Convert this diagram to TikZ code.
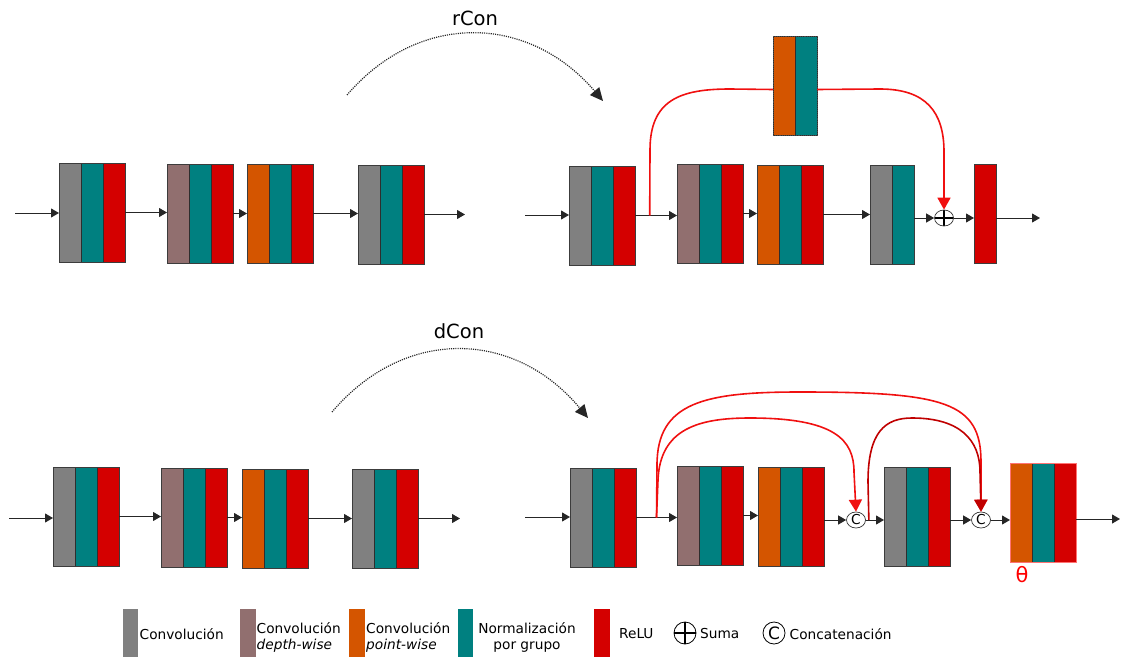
\documentclass[tikz,border=0pt]{standalone}
\usepackage{fontspec}
\setmainfont{DejaVu Sans}
\usetikzlibrary{arrows.meta,calc,shapes.geometric}

\definecolor{convgray}{HTML}{808080}
\definecolor{dwmauve}{HTML}{916F6F}
\definecolor{pworange}{HTML}{D45500}
\definecolor{gnteal}{HTML}{008080}
\definecolor{relured}{HTML}{D40000}
\definecolor{framegray}{HTML}{3C3C3C}
\definecolor{sepgray}{HTML}{2E2E2E}
\definecolor{skipred}{HTML}{F01010}
\definecolor{skipdark}{HTML}{C00000}

\tikzset{
  layerbox/.style={rectangle, anchor=north west, inner sep=0pt, outer sep=0pt, minimum height=99},
  conn/.style={-{Triangle[length=8pt,width=9pt]}, line width=1pt, draw=black!85},
  skip/.style={line width=1.6pt, draw=skipred},
  skiptip/.style={-{Triangle[length=12pt,width=13pt]}},
  hint/.style={line width=1.2pt, draw=black!85, dash pattern=on 1.1pt off 1.1pt,
    -{Triangle[length=13pt,width=12pt]}},
  joinnode/.style={ellipse, draw=black!80, line width=0.7pt, fill=white, inner sep=0pt,
    minimum width=19, minimum height=16},
  swatch/.style={rectangle, inner sep=0pt, minimum width=15.6, minimum height=48},
  legtext/.style={inner sep=0pt, font=\fontsize{13.7}{16}\selectfont},
  title/.style={font=\fontsize{19.5}{20}\selectfont},
}

% a layer block: #1 frame style, #2 name, #3 left x, #4 top y, #5 strip count, #6 strip colours
\newcommand\layer[6][draw=framegray]{%
  \node[layerbox, minimum width={#5*22}] (#2) at (#3,#4) {};
  \foreach \clr [count=\i from 0] in {#6}
    \filldraw[fill=\clr, draw=sepgray, line width=0.6pt]
      ([xshift={\i*22}]#2.north west) rectangle ([xshift={(\i+1)*22}]#2.south west);
  \draw[line width=0.9pt, #1] (#2.north west) rectangle (#2.south east);
}

\begin{document}
\begin{tikzpicture}[x=1pt, y=-1pt]
\useasboundingbox (0,0) rectangle (1121,658);

% ---------------- plain block, top ----------------
\layer{t1}{59}{163}{3}{convgray,gnteal,relured}
\layer{t2}{167}{164}{3}{dwmauve,gnteal,relured}
\layer{t3}{247}{164}{3}{pworange,gnteal,relured}
\layer{t4}{358}{165}{3}{convgray,gnteal,relured}
\coordinate (tin) at (15,213);
\coordinate (tout) at (465,215);
\draw[conn] (tin) -- (tin -| t1.west);
\draw[conn] (t1.east) -- (t1.east -| t2.west);
\draw[conn] (t2.east) -- (t2.east -| t3.west);
\draw[conn] (t3.east) -- (t3.east -| t4.west);
\draw[conn] (t4.east) -- (t4.east -| tout);

% ---------------- residual connection block ----------------
\layer{r1}{569}{166}{3}{convgray,gnteal,relured}
\layer{r2}{677}{164}{3}{dwmauve,gnteal,relured}
\layer{r3}{757}{165}{3}{pworange,gnteal,relured}
\layer{r4}{870}{165}{2}{convgray,gnteal}
\layer{r5}{974}{164}{1}{relured}
\layer[draw=black!70, densely dotted, line width=0.8pt]{rs}{773}{36}{2}{pworange,gnteal}
\node[joinnode, path picture={
    \draw[line width=1.6pt, black] (path picture bounding box.west) -- (path picture bounding box.east)
      (path picture bounding box.north) -- (path picture bounding box.south);}]
  (sum) at (944,218) {};
\coordinate (rin) at (525,215);
\coordinate (rout) at (1040,218);
\coordinate (rsplit) at ($(r1.east)!0.35!(r1.east -| r2.west)$);
\draw[conn] (rin) -- (rin -| r1.west);
\draw[conn] (r1.east) -- (r1.east -| r2.west);
\draw[conn] (r2.east) -- (r2.east -| r3.west);
\draw[conn] (r3.east) -- (r3.east -| r4.west);
\draw[conn] (sum.west -| r4.east) -- (sum.west);
\draw[conn] (sum.east) -- (sum.east -| r5.west);
\draw[conn] (rout -| r5.east) -- (rout);
\draw[skip] (rsplit) -- (650,150) .. controls (650,100) and (680,89) .. (730,89)
  -- ([yshift=-4pt]rs.west);
\draw[skip, skiptip] ([yshift=-4pt]rs.east) -- (880,89)
  .. controls (926,89) and (944,112) .. (944,152) -- (sum.north);

% ---------------- plain block, bottom ----------------
\layer{b1}{53}{467}{3}{convgray,gnteal,relured}
\layer{b2}{161}{468}{3}{dwmauve,gnteal,relured}
\layer{b3}{242}{469}{3}{pworange,gnteal,relured}
\layer{b4}{352}{469}{3}{convgray,gnteal,relured}
\coordinate (bin) at (9,518);
\coordinate (bout) at (460,520);
\draw[conn] (bin) -- (bin -| b1.west);
\draw[conn] (b1.east) -- (b1.east -| b2.west);
\draw[conn] (b2.east) -- (b2.east -| b3.west);
\draw[conn] (b3.east) -- (b3.east -| b4.west);
\draw[conn] (b4.east) -- (b4.east -| bout);

% ---------------- dense connection block ----------------
\layer{d1}{570}{468}{3}{convgray,gnteal,relured}
\layer{d2}{677}{466}{3}{dwmauve,gnteal,relured}
\layer{d3}{758}{467}{3}{pworange,gnteal,relured}
\layer{d4}{884}{467}{3}{convgray,gnteal,relured}
\layer[draw=red!55, line width=1pt]{d5}{1010}{463}{3}{pworange,gnteal,relured}
\node[joinnode, font=\fontsize{13.7}{14}\selectfont] (cat1) at (856,520) {C};
\node[joinnode, font=\fontsize{13.7}{14}\selectfont] (cat2) at (981,520) {C};
\node[text=red, font=\fontsize{21}{21}\selectfont] (theta) at (1022,575) {θ};
\coordinate (din) at (525,517);
\coordinate (dout) at (1120,519);
\coordinate (dsplit) at ($(d1.east)!0.5!(d1.east -| d2.west)$);
\coordinate (csplit) at ([xshift=3pt]cat1.east);
\draw[conn] (din) -- (din -| d1.west);
\draw[conn] (d1.east) -- (d1.east -| d2.west);
\draw[conn] (d2.east) -- (d2.east -| d3.west);
\draw[conn] (cat1.west -| d3.east) -- (cat1.west);
\draw[conn] (cat1.east) -- (cat1.east -| d4.west);
\draw[conn] (cat2.west -| d4.east) -- (cat2.west);
\draw[conn] (cat2.east) -- (cat2.east -| d5.west);
\draw[conn] (dout -| d5.east) -- (dout);
% outer skip to the second concatenation
\draw[skip, skiptip] (dsplit) -- (657,465)
  .. controls (657,402) and (705,392) .. (800,392)
  .. controls (945,392) and (981,402) .. (981,462) -- (cat2.north);
% inner skip to the first concatenation
\draw[skip, skiptip] (dsplit) -- (658,480)
  .. controls (660,428) and (700,418) .. (750,418)
  .. controls (835,418) and (854,440) .. (854,472) -- (cat1.north);
% skip from the first concatenation to the second
\draw[skip, skiptip, draw=skipdark] (csplit) -- (868,482)
  .. controls (868,432) and (885,418) .. (912,418)
  .. controls (960,418) and (980,440) .. (980,472) -- (cat2.north);

% ---------------- transitions ----------------
\coordinate (arcAs) at (347,95);
\coordinate (arcAe) at (603,101);
\draw[hint] (arcAs) .. controls (420,10) and (530,15) .. (arcAe);
\node[title] (rcon) at (475,18) {rCon};
\coordinate (arcBs) at (332,412);
\coordinate (arcBe) at (588,418);
\draw[hint] (arcBs) .. controls (405,326) and (515,330) .. (arcBe);
\node[title] (dcon) at (459,331) {dCon};

% ---------------- legend ----------------
\node[swatch, fill=convgray] (lgconv) at (130.5,633) {};
\node[legtext, anchor=west] (lgconvt) at (139.5,634) {Convolución};
\node[swatch, fill=dwmauve] (lgdw) at (248,633) {};
\node[legtext, anchor=west, align=left] (lgdwt) at (256.5,637) {Convolución\\\textit{depth-wise}};
\node[swatch, fill=pworange] (lgpw) at (357,633) {};
\node[legtext, anchor=west, align=left] (lgpwt) at (366,637) {Convolución\\\textit{point-wise}};
\node[swatch, fill=gnteal] (lggn) at (465.5,633) {};
\node[legtext, align=center] (lggnt) at (527,637) {Normalización\\por grupo};
\node[swatch, fill=relured] (lgrelu) at (601.7,633) {};
\node[legtext, anchor=west] (lgrelut) at (619,634) {ReLU};
\node[circle, draw=black, line width=0.8pt, minimum size=22, inner sep=0pt, path picture={
    \draw[line width=2.2pt, black] (path picture bounding box.west) -- (path picture bounding box.east)
      (path picture bounding box.north) -- (path picture bounding box.south);}]
  (lgsum) at (685,633) {};
\node[legtext, anchor=west] (lgsumt) at (700,634) {Suma};
\node[circle, draw=black, line width=0.8pt, minimum size=22, inner sep=0pt,
  font=\fontsize{17}{17}\selectfont] (lgcat) at (774,633) {C};
\node[legtext, anchor=west] (lgcatt) at (789.5,634) {Concatenación};
\end{tikzpicture}
\end{document}
